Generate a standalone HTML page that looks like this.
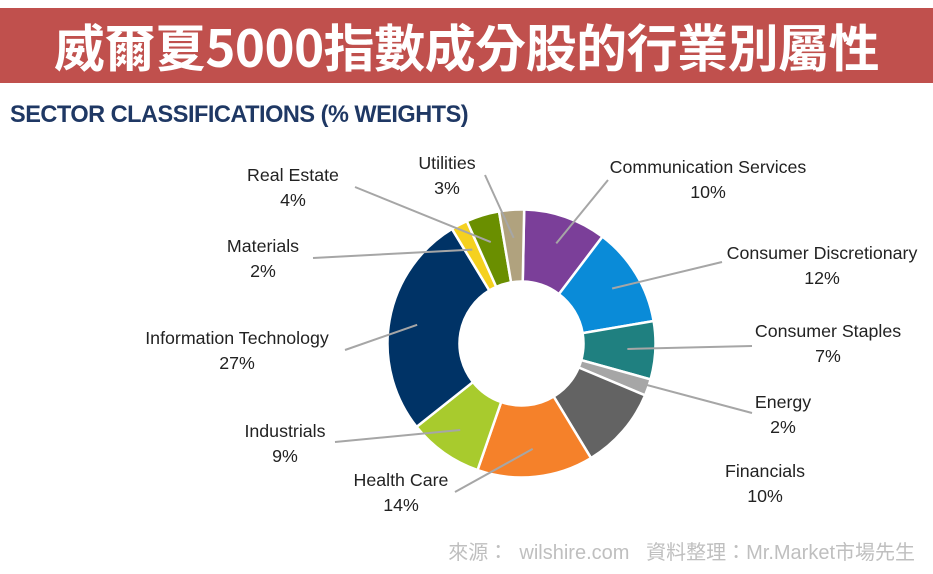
<!DOCTYPE html>
<html><head><meta charset="utf-8"><style>
body{margin:0;width:933px;height:574px;background:#fff;overflow:hidden;font-family:"Liberation Sans","Noto Sans CJK TC",sans-serif;position:relative}
#banner{position:absolute;left:0;top:8px;width:933px;height:75px;background:#C0504D}
#title{position:absolute;left:0;top:9px;width:933px;text-align:center;color:#fff;font-weight:bold;font-size:51px;line-height:72px;font-family:"Noto Sans CJK TC","WenQuanYi Zen Hei",sans-serif;letter-spacing:-0.5px}
#sub{position:absolute;left:10px;top:101px;color:#1F3864;font-weight:bold;font-size:24px;transform:scaleX(0.98);transform-origin:left;white-space:nowrap;letter-spacing:-0.5px}
#foot{position:absolute;right:18px;top:536px;color:#BFBFBF;font-size:20px;white-space:pre;font-family:"Liberation Sans","Noto Sans CJK TC",sans-serif}
svg{position:absolute;left:0;top:0}
</style></head><body>
<div id="banner"></div>
<div id="title">威爾夏5000指數成分股的行業別屬性</div>
<div id="sub">SECTOR CLASSIFICATIONS (% WEIGHTS)</div>
<svg id="chart" width="933" height="574"></svg>
<div id="foot">來源：  wilshire.com   資料整理：Mr.Market市場先生</div>
<script>
const categories=["Communication Services","Consumer Discretionary","Consumer Staples","Energy","Financials","Health Care","Industrials","Information Technology","Materials","Real Estate","Utilities"];
const values=[10,12,7,2,10,14,9,27,2,4,3];
const colors=["#7B3F99","#0A8BD8","#1F8080","#A6A6A6","#636363","#F5812A","#A8CB2D","#003366","#F5D11F","#6A8F00","#B0A27E"];
const labelPos=[[708,167],[822,253],[828,331],[783,402],[765,471],[401,480],[285,431],[237,338],[263,246],[293,175],[447,163]];
const lineStart=[[608,180],[722,262],[752,346],[752,413],null,[455,492],[335,442],[345,350],[313,258],[355,187],[485,175]];
const NS="http://www.w3.org/2000/svg";
const svg=document.getElementById('chart');
const cx=521.5,cy=343.5,R=134,r=62;
const total=values.reduce((a,b)=>a+b,0);
function pt(a,rad){return [cx+rad*Math.sin(a),cy-rad*Math.cos(a)];}
let a0=0.02;
const mids=[];
values.forEach((v,i)=>{
  const a1=a0+v/total*2*Math.PI;
  const p1=pt(a0,R),p2=pt(a1,R),p3=pt(a1,r),p4=pt(a0,r);
  const large=(a1-a0)>Math.PI?1:0;
  const p=document.createElementNS(NS,'path');
  p.setAttribute('d',`M${p1[0]},${p1[1]} A${R},${R} 0 ${large} 1 ${p2[0]},${p2[1]} L${p3[0]},${p3[1]} A${r},${r} 0 ${large} 0 ${p4[0]},${p4[1]}Z`);
  p.setAttribute('fill',colors[i]);p.setAttribute('stroke','#fff');p.setAttribute('stroke-width','2.5');
  
  
  svg.appendChild(p);
  mids.push((a0+a1)/2);
  a0=a1;
});
values.forEach((v,i)=>{
  if(lineStart[i]){
    const e=pt(mids[i],(R+r)/2+8);
    const l=document.createElementNS(NS,'line');
    l.setAttribute('x1',lineStart[i][0]);l.setAttribute('y1',lineStart[i][1]);
    l.setAttribute('x2',e[0]);l.setAttribute('y2',e[1]);
    l.setAttribute('stroke','#A6A6A6');l.setAttribute('stroke-width','2');
    
    
    svg.appendChild(l);
  }
  const t=document.createElementNS(NS,'text');
  t.setAttribute('x',labelPos[i][0]);t.setAttribute('y',labelPos[i][1]+6);
  t.setAttribute('text-anchor','middle');t.setAttribute('font-size','17.8');t.setAttribute('fill','#222');
  t.setAttribute('font-family','Liberation Sans, sans-serif');
  
  
  const s1=document.createElementNS(NS,'tspan');s1.setAttribute('x',labelPos[i][0]);s1.textContent=categories[i];
  const s2=document.createElementNS(NS,'tspan');s2.setAttribute('x',labelPos[i][0]);s2.setAttribute('dy','25');s2.textContent=v+'%';
  t.appendChild(s1);t.appendChild(s2);svg.appendChild(t);
});
</script>
</body></html>
